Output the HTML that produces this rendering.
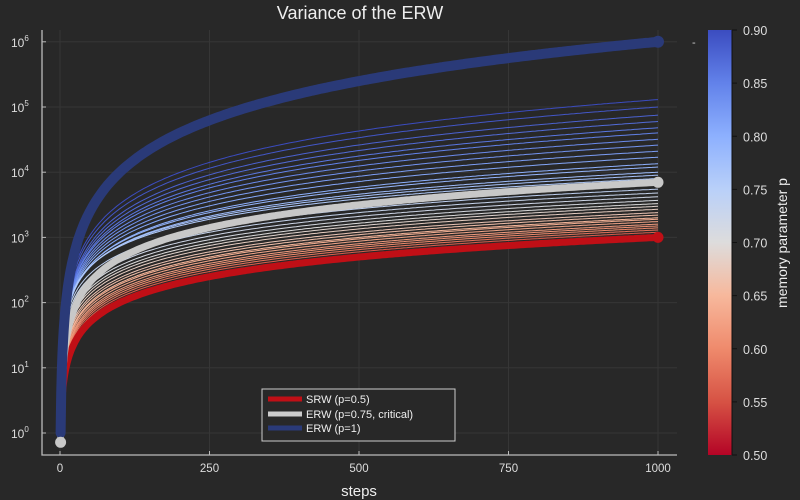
<!DOCTYPE html>
<html><head><meta charset="utf-8"><style>
html,body{margin:0;padding:0;background:#282828;}
svg{display:block;font-family:"Liberation Sans","DejaVu Sans",sans-serif;}
</style></head><body>
<svg id="chart" width="800" height="500" viewBox="0 0 800 500">
<defs>
<linearGradient id="cbg" x1="0" y1="1" x2="0" y2="0">
<stop offset="0" stop-color="#b40426"/><stop offset="0.125" stop-color="#d65244"/><stop offset="0.25" stop-color="#ef8a6c"/><stop offset="0.375" stop-color="#f7b89c"/><stop offset="0.5" stop-color="#dddcdc"/><stop offset="0.625" stop-color="#b9d0f9"/><stop offset="0.75" stop-color="#8db0fe"/><stop offset="0.875" stop-color="#6282ea"/><stop offset="1" stop-color="#3b4cc0"/>
</linearGradient>
<clipPath id="pc"><rect x="42" y="30" width="635" height="425"/></clipPath>
</defs>
<rect x="0" y="0" width="800" height="500" fill="#282828"/>
<text x="360" y="19" fill="#eeeeee" font-size="18" text-anchor="middle">Variance of the ERW</text>
<g id="grid"></g>
<g id="series" clip-path="url(#pc)"></g>
<g id="axes"></g>
<text x="359" y="496" fill="#eeeeee" font-size="15" text-anchor="middle">steps</text>
<text x="692" y="46" fill="#cccccc" font-size="11">-</text>
<rect x="708" y="30" width="24" height="425" fill="url(#cbg)"/>
<line x1="732" y1="30" x2="732" y2="455" stroke="#111" stroke-width="1"/>
<g id="cbticks"></g>
<text transform="translate(787,243) rotate(-90)" fill="#eeeeee" font-size="14" text-anchor="middle">memory parameter p</text>
<g>
<rect x="262" y="389" width="193" height="52" fill="#282828" stroke="#cccccc" stroke-width="1"/>
<line x1="268" y1="399" x2="302" y2="399" stroke="#c00f16" stroke-width="5"/>
<text x="306" y="403" fill="#eeeeee" font-size="11">SRW (p=0.5)</text>
<line x1="268" y1="414" x2="302" y2="414" stroke="#cccccc" stroke-width="5"/>
<text x="306" y="418" fill="#eeeeee" font-size="11">ERW (p=0.75, critical)</text>
<line x1="268" y1="428" x2="302" y2="428" stroke="#2a3a78" stroke-width="5"/>
<text x="306" y="432" fill="#eeeeee" font-size="11">ERW (p=1)</text>
</g>
</svg>
<script>
const xTicks=[0,250,500,750,1000];
const yTickExps=[0,1,2,3,4,5,6];
const cbTicks=[0.50,0.55,0.60,0.65,0.70,0.75,0.80,0.85,0.90];
const pValues=[0.9,0.89,0.88,0.87,0.86,0.85,0.84,0.83,0.82,0.81,0.8,0.79,0.78,0.77,0.76,0.74,0.73,0.72,0.71,0.70,0.69,0.68,0.67,0.66,0.65,0.64,0.63,0.62,0.61,0.60,0.58,0.56,0.54,0.52,0.5];
const finalVariance=[130000,100000,75000,60000,48000,40000,32000,26000,21000,17000,13500,12000,10000,9000,8000,5500,4800,4200,3700,3300,3000,2700,2400,2200,2000,1900,1750,1600,1500,1400,1300,1200,1100,1050,1000];
const thickP=[0.5,0.75,1.0];
const thickFinal=[1000,7000,1000000];
const nSteps=1000;

const NS='http://www.w3.org/2000/svg';
const X=v=>60+v*0.598;
const Y=v=>433-Math.log10(v)*65.2;
function mk(t,a,parent){const e=document.createElementNS(NS,t);for(const k in a)e.setAttribute(k,a[k]);parent.appendChild(e);return e;}
const stops=[[0.5,[180,4,38]],[0.55,[214,82,68]],[0.6,[239,138,108]],[0.65,[247,184,156]],[0.7,[221,220,220]],[0.75,[185,208,249]],[0.8,[141,176,254]],[0.85,[98,130,234]],[0.9,[59,76,192]]];
function cmap(p){p=Math.max(0.5,Math.min(0.9,p));for(let i=0;i<stops.length-1;i++){const[a,ca]=stops[i],[b,cb]=stops[i+1];if(p<=b){const t=(p-a)/(b-a);return 'rgb('+ca.map((c,j)=>Math.round(c+(cb[j]-c)*t)).join(',')+')';}}return 'rgb(59,76,192)';}
function alpha(p){return p>0.75?4*p-2:1;}
function pathFor(p,vf,crit){let d='';for(let n=1;n<=nSteps;n+=(n<20?1:5)){let v;if(crit){v=vf*n*(Math.log(n)+0.3)/(nSteps*(Math.log(nSteps)+0.3));}else v=vf*Math.pow(n/nSteps,alpha(p));v=Math.max(v,0.9);d+=(d?'L':'M')+X(n).toFixed(1)+','+Y(v).toFixed(1);}return d;}

const grid=document.getElementById('grid'),axes=document.getElementById('axes'),ser=document.getElementById('series'),cbt=document.getElementById('cbticks');
xTicks.forEach(t=>{
const l=mk('line',{x1:X(t),x2:X(t),y1:30,y2:455,stroke:'#363636','stroke-width':1},grid);


const tk=mk('line',{x1:X(t),x2:X(t),y1:455,y2:451,stroke:'#bbbbbb'},axes);


const tx=mk('text',{x:X(t),y:472,fill:'#dddddd','font-size':11.5,'text-anchor':'middle'},axes);tx.textContent=t;


});
yTickExps.forEach(e=>{const y=Y(Math.pow(10,e));
const l=mk('line',{x1:42,x2:677,y1:y,y2:y,stroke:'#363636','stroke-width':1},grid);


const tk=mk('line',{x1:42,x2:46,y1:y,y2:y,stroke:'#bbbbbb'},axes);


const tx=mk('text',{x:11,y:y+5,fill:'#dddddd','font-size':12},axes);tx.textContent='10';


const sp=mk('tspan',{dy:-6,'font-size':8},tx);sp.textContent=e;
});
const ax=mk('path',{d:'M42,30L42,455L677,455',fill:'none',stroke:'#bbbbbb','stroke-width':1.3},axes);


cbTicks.forEach(t=>{const y=455-(t-0.5)/0.4*425;
const tk=mk('line',{x1:732,x2:737,y1:y,y2:y,stroke:'#111'},cbt);


const tx=mk('text',{x:743,y:y+5,fill:'#dddddd','font-size':12.5},cbt);tx.textContent=t.toFixed(2);


});
pValues.forEach((p,i)=>{
const pa=mk('path',{d:pathFor(p,finalVariance[i],false),fill:'none',stroke:cmap(p),'stroke-width':1},ser);


});
const thickCol=['#c00f16','#c8c8c8','#2a3a78'];
const thickNames=['srw-line','erw-critical-line','erw-p1-line'];
thickP.forEach((p,i)=>{
const d=pathFor(p,thickFinal[i],p===0.75);
const pa=mk('path',{d:d,fill:'none',stroke:thickCol[i],'stroke-width':i==2?10:i==1?7:7,'stroke-linecap':'round','stroke-linejoin':'round'},ser);


const c=mk('circle',{cx:X(nSteps),cy:Y(thickFinal[i]),r:i==2?6:5.5,fill:thickCol[i]},ser);


});
const c0=mk('circle',{cx:X(1),cy:Y(0.72),r:5.5,fill:'#c8c8c8'},ser);


</script>
</body></html>
